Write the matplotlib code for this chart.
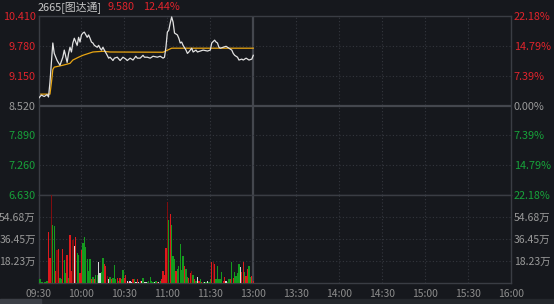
import matplotlib
matplotlib.use("Agg")
import matplotlib.pyplot as plt
from matplotlib.patches import Rectangle
import numpy as np

plt.rcParams['font.family'] = ['Noto Sans CJK SC', 'DejaVu Sans']

# ---- data ----
prev_close = 8.520
price_t = [0, 2, 4, 6, 7, 8, 10, 11, 13, 15, 17, 18, 20, 21, 22, 23, 24, 25, 27, 28,
           29, 30, 31, 32, 34, 35, 36, 37, 38, 39, 41, 42, 43, 44, 45, 46, 48, 49, 50, 52,
           53, 55, 57, 59, 61, 62, 64, 66, 68, 69, 71, 73, 74, 76, 78, 80, 83, 85, 87, 88,
           89, 90, 91, 92, 93, 94, 95, 97, 98, 99, 100, 101, 103, 104, 105, 106, 107, 108, 110, 111,
           113, 115, 118, 120, 121, 123, 124, 125, 126, 127, 129, 131, 132, 133, 135, 136, 137, 139, 140, 142,
           143, 145, 146, 147, 149, 150]
price_v = [8.67, 8.74, 8.71, 8.75, 8.70, 9.01, 9.84, 9.62, 9.47, 9.37, 9.54, 9.69, 9.43, 9.62, 9.75, 9.65, 9.84, 9.94, 9.79, 9.96,
           9.86, 10.01, 10.05, 10.07, 9.96, 10.01, 9.94, 9.86, 9.84, 9.79, 9.75, 9.79, 9.73, 9.69, 9.75, 9.69, 9.58, 9.52, 9.54, 9.47,
           9.52, 9.54, 9.47, 9.54, 9.50, 9.47, 9.52, 9.48, 9.56, 9.52, 9.52, 9.58, 9.54, 9.54, 9.52, 9.56, 9.54, 9.56, 9.52, 9.54,
           9.75, 10.07, 10.11, 10.26, 10.39, 10.28, 10.05, 10.01, 9.94, 9.84, 9.86, 9.79, 9.69, 9.62, 9.65, 9.69, 9.73, 9.65, 9.69, 9.65,
           9.67, 9.69, 9.67, 9.69, 9.84, 9.90, 9.86, 9.84, 9.75, 9.73, 9.75, 9.77, 9.75, 9.73, 9.69, 9.62, 9.58, 9.54, 9.48, 9.50,
           9.48, 9.52, 9.50, 9.48, 9.50, 9.58]

avg_t = [0, 8, 9, 10, 11, 14, 17, 22, 24, 28, 31, 35, 38, 45, 50, 87, 93, 150]
avg_v = [8.76, 8.76, 9.00, 9.28, 9.33, 9.35, 9.37, 9.41, 9.48, 9.54, 9.58, 9.62, 9.65, 9.665, 9.65, 9.645, 9.73, 9.73]

# volume per minute, in 万; colour codes r=up, d=dark red, g=down, w=flat
vol = [14, 3, 1, 1, 1, 1, 2, 42, 21, 73,
       48, 47, 10, 27, 28, 4, 3, 28, 19, 8,
       23, 4, 40, 10, 36, 31, 38, 25, 23, 8,
       27, 33, 38, 30, 20, 10, 20, 3, 5, 3,
       7, 7, 17, 8, 9, 21, 16, 14, 6, 3,
       5, 3, 4, 15, 3, 4, 2, 4, 3, 11,
       4, 7, 2, 1, 2, 1, 3, 3, 1, 3,
       1, 2, 2, 4, 1, 1, 1, 2, 5, 2,
       1, 1, 2, 1, 1, 2, 3, 10, 7, 29,
       67, 52, 57, 48, 22, 20, 10, 12, 14, 32,
       11, 22, 14, 12, 5, 4, 8, 10, 7, 3,
       2, 5, 2, 3, 1, 1, 1, 1, 2, 1,
       3, 17, 17, 16, 3, 14, 3, 3, 9, 2,
       5, 2, 1, 3, 3, 17, 4, 9, 6, 8,
       16, 13, 9, 17, 9, 6, 12, 14, 5, 6, 2]
vol_c = list("rggggggrrd"
             "ggrdrggrgg"
             "rgrrdwrggr"
             "rggggggrgr"
             "ggwwggrrdw"
             "grgggrgrgg"
             "rrwrwwrgwr"
             "wrwgwwgggg"
             "gwgrwgrrrr"
             "dgrgggrggg"
             "ggrggrrdgr"
             "gwrgrgwgwg"
             "grdrgggggr"
             "rwggrgrggg"
             "gwrrgrrggrr")

price_ticks = [10.410, 9.780, 9.150, 8.520, 7.890, 7.260, 6.630]
pct_labels = ["22.18%", "14.79%", "7.39%", "0.00%", "7.39%", "14.79%", "22.18%"]
vol_ticks = [18.23, 36.45, 54.68]
vol_top = 72.9
time_ticks = [0, 30, 60, 90, 120, 150, 180, 210, 240, 270, 300, 330]
time_labels = ["09:30", "10:00", "10:30", "11:00", "11:30", "13:00",
               "13:30", "14:00", "14:30", "15:00", "15:30", "16:00"]

title_code = "2665[图达通]"
title_price = "9.580"
title_pct = "12.44%"

# ---- styling ----
BG = "#16181d"
GRID = "#34373e"
SOLID = "#3a3d44"
RED = "#e0242c"
GREEN = "#17a23a"
GRAY = "#9a9a9a"
cmap = {"r": "#dc1a1d", "d": "#800d0f", "g": "#159a1f", "w": "#d8d8d8"}

W, H = 554, 304
fig = plt.figure(figsize=(W / 100, H / 100), dpi=100, facecolor=BG)

def frac(x0, y0, x1, y1):
    return [x0 / W, 1 - y1 / H, (x1 - x0) / W, (y1 - y0) / H]

ax = fig.add_axes(frac(38.5, 16, 511, 195))
axv = fig.add_axes(frac(38.5, 195, 511, 283))

for a in (ax, axv):
    a.set_facecolor(BG)
    a.set_xlim(0, 330)
    for s in a.spines.values():
        s.set_color(SOLID)
        s.set_linewidth(1.0)
    for t in time_ticks[1:-1]:
        if t == 150:
            a.axvline(t, color="#44474e", lw=1.6, zorder=1)
        else:
            a.axvline(t, color=GRID, lw=0.8, ls=(0, (1, 2)), zorder=1)
    a.tick_params(length=0)

# price panel
ax.set_ylim(6.630, 10.410)
for lv in price_ticks[1:-1]:
    if lv == prev_close:
        ax.axhline(lv, color="#44474e", lw=1.6, zorder=1)
    else:
        ax.axhline(lv, color=GRID, lw=0.8, ls=(0, (1, 2)), zorder=1)
ax.plot(price_t, price_v, color="#e2e2e2", lw=0.9, zorder=3)
ax.plot(avg_t, avg_v, color="#e8a512", lw=0.9, zorder=2)
ax.set_xticks([])
ax.set_yticks(price_ticks)
ax.set_yticklabels(["%.3f" % v for v in price_ticks], fontsize=7.8)
ax.tick_params(axis="y", pad=2)
lab_colors = [RED, RED, RED, GRAY, GREEN, GREEN, GREEN]
for lab, c in zip(ax.get_yticklabels(), lab_colors):
    lab.set_color(c)

ax2 = ax.twinx()
ax2.set_ylim(ax.get_ylim())
ax2.set_yticks(price_ticks)
ax2.set_yticklabels(pct_labels, fontsize=7.8)
ax2.tick_params(length=0, pad=2)
for s in ax2.spines.values():
    s.set_visible(False)
for lab, c in zip(ax2.get_yticklabels(), lab_colors):
    lab.set_color(c)

# volume panel
axv.set_ylim(0, vol_top)
for lv in vol_ticks:
    axv.axhline(lv, color=GRID, lw=0.8, ls=(0, (1, 2)), zorder=1)
mins = np.arange(len(vol))
axv.bar(mins, vol, width=0.9, color=[cmap[c] for c in vol_c], linewidth=0, zorder=3)
axv.set_yticks(vol_ticks)
axv.set_yticklabels(["%.2f万" % v for v in vol_ticks], fontsize=7.5, color=GRAY)
axv.tick_params(axis="y", pad=2)
axv.set_xticks(time_ticks)
axv.set_xticklabels(time_labels, fontsize=7.5, color="#8c8c8c")
axv.tick_params(axis="x", pad=4)
av2 = axv.twinx()
av2.set_ylim(0, vol_top)
av2.set_yticks(vol_ticks)
av2.set_yticklabels(["%.2f万" % v for v in vol_ticks], fontsize=7.5, color=GRAY)
av2.tick_params(length=0, pad=2)
for s in av2.spines.values():
    s.set_visible(False)

# header
fig.text(38 / W, 1 - 7 / H, title_code, color="#c8c8c8", fontsize=7.8, va="center")
fig.text(107 / W, 1 - 7 / H, title_price, color=RED, fontsize=7.8, va="center")
fig.text(143 / W, 1 - 7 / H, title_pct, color=RED, fontsize=7.8, va="center")

# bottom scroll strip
fig.patches.append(Rectangle((0, 0), 1, 5 / H, transform=fig.transFigure, color="#24272c", zorder=0))
fig.patches.append(Rectangle((0, 0), 41 / W, 5 / H, transform=fig.transFigure, color="#3c3f46", zorder=0))

fig.savefig("out.png", dpi=100, facecolor=BG)
